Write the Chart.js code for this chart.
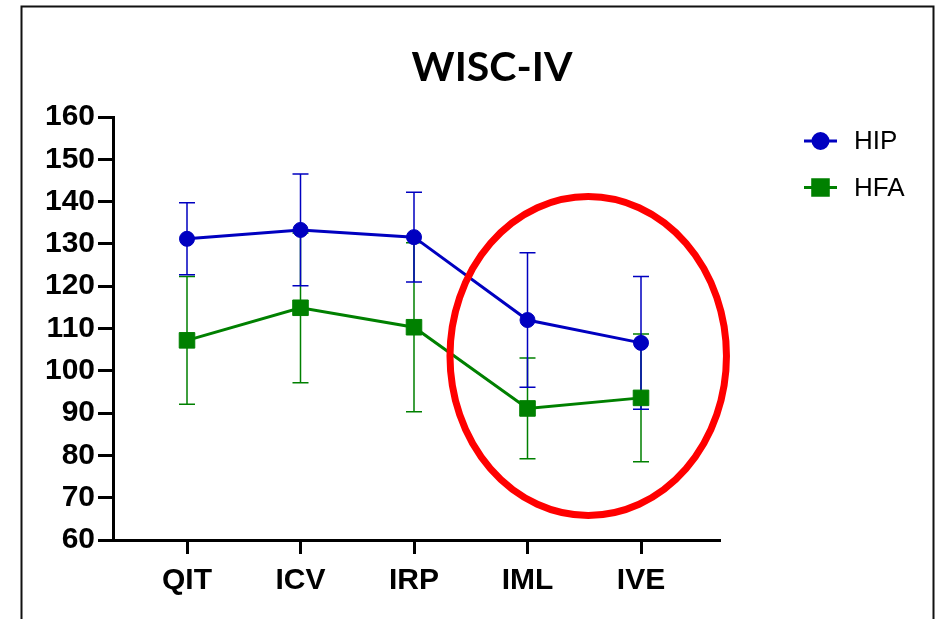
<!DOCTYPE html>
<html>
<head>
<meta charset="utf-8">
<script src="https://cdn.jsdelivr.net/npm/chart.js@4.4.1/dist/chart.umd.min.js"></script>
<style>
  html, body { margin: 0; padding: 0; background: #fff; }
  canvas { display: block; }
</style>
</head>
<body>
<canvas id="myChart" width="942" height="619"></canvas>
<script>
// WISC-IV scores, mean and error (+/-) per index
const categories = ['QIT', 'ICV', 'IRP', 'IML', 'IVE'];
const hipMean = [131.2, 133.3, 131.6, 112.0, 106.6];
const hipErr = [8.5, 13.2, 10.6, 15.9, 15.7];
const hfaMean = [107.2, 114.9, 110.3, 91.1, 93.6];
const hfaErr = [15.1, 17.7, 20.0, 11.9, 15.1];
const yTicks = [60, 70, 80, 90, 100, 110, 120, 130, 140, 150, 160];

const blue = '#0000c0';
const green = '#008000';

// red circle drawn around IML / IVE (in axis units)
const highlight = { x: 3.535, y: 103.5, rx: 1.218, ry: 37.7 };

function toPoints(values) {
    return values.map((v, i) => ({ x: i, y: v }));
}

const errorBars = {
    id: 'errorBars',
    beforeDatasetsDraw(chart) {
        const ctx = chart.ctx;
        const xs = chart.scales.x;
        const ys = chart.scales.y;
        const sets = [[hfaMean, hfaErr, green], [hipMean, hipErr, blue]];
        ctx.save();
        ctx.lineWidth = 1.5;
        sets.forEach(([mean, err, color]) => {
            ctx.strokeStyle = color;
            for (let i = 0; i < mean.length; i++) {
                let x = xs.getPixelForValue(i);
                let top = ys.getPixelForValue(mean[i] + err[i]);
                let bot = ys.getPixelForValue(mean[i] - err[i]);
                ctx.beginPath();
                ctx.moveTo(x, top);
                ctx.lineTo(x, bot);
                ctx.moveTo(x - 8, top);
                ctx.lineTo(x + 8, top);
                ctx.moveTo(x - 8, bot);
                ctx.lineTo(x + 8, bot);
                ctx.stroke();
            }
        });
        ctx.restore();
    },
    afterDatasetsDraw(chart) {
        const ctx = chart.ctx;
        const xs = chart.scales.x;
        const ys = chart.scales.y;
        let cx = xs.getPixelForValue(highlight.x);
        let cy = ys.getPixelForValue(highlight.y);
        let rx = xs.getPixelForValue(highlight.x + highlight.rx) - cx;
        let ry = cy - ys.getPixelForValue(highlight.y + highlight.ry);
        ctx.save();
        ctx.strokeStyle = '#ff0000';
        ctx.lineWidth = 7;
        ctx.beginPath();
        ctx.ellipse(cx, cy, rx, ry, 0, 0, Math.PI * 2);
        ctx.stroke();
        ctx.restore();
    }
};

const decorations = {
    id: 'decorations',
    beforeDraw(chart) {
        const ctx = chart.ctx;
        ctx.save();
        ctx.fillStyle = '#fff';
        ctx.fillRect(0, 0, chart.width, chart.height);
        // frame
        ctx.strokeStyle = '#111';
        ctx.lineWidth = 2;
        ctx.beginPath();
        ctx.moveTo(21.5, chart.height + 5);
        ctx.lineTo(21.5, 6.5);
        ctx.lineTo(933.5, 6.5);
        ctx.lineTo(933.5, chart.height + 5);
        ctx.stroke();
        // title
        ctx.fillStyle = '#000';
        ctx.font = 'bold 41px Lato, "Open Sans", sans-serif';
        ctx.textAlign = 'center';
        ctx.textBaseline = 'alphabetic';
        ctx.fillText('WISC-IV', 492, 81);
        ctx.restore();
    },
    afterDraw(chart) {
        const ctx = chart.ctx;
        const items = [
            { label: 'HIP', color: blue, style: 'circle', radius: 7.5, y: 141 },
            { label: 'HFA', color: green, style: 'rect', radius: 11, y: 187.5 }
        ];
        ctx.save();
        items.forEach(it => {
            ctx.strokeStyle = it.color;
            ctx.lineWidth = 3;
            ctx.beginPath();
            ctx.moveTo(804, it.y);
            ctx.lineTo(837, it.y);
            ctx.stroke();
            ctx.fillStyle = it.color;
            Chart.helpers.drawPoint(ctx, { pointStyle: it.style, radius: it.radius, borderWidth: 1, rotation: 0 }, 820.5, it.y);
            ctx.fillStyle = '#000';
            ctx.font = '26px "Liberation Sans", Arial, sans-serif';
            ctx.textAlign = 'left';
            ctx.textBaseline = 'middle';
            ctx.fillText(it.label, 854, it.y + 1);
        });
        ctx.restore();
    }
};

const ctx = document.getElementById('myChart').getContext('2d');
const myChart = new Chart(ctx, {
    type: 'line',
    data: {
        datasets: [{
            label: 'HIP',
            data: toPoints(hipMean),
            borderColor: blue,
            backgroundColor: blue,
            borderWidth: 3,
            pointStyle: 'circle',
            pointRadius: 7.5,
            pointBorderWidth: 1
        }, {
            label: 'HFA',
            data: toPoints(hfaMean),
            borderColor: green,
            backgroundColor: green,
            borderWidth: 3,
            pointStyle: 'rect',
            pointRadius: 11,
            pointBorderWidth: 1
        }]
    },
    options: {
        responsive: false,
        animation: false,
        events: [],
        layout: { padding: { top: 117, right: 222, bottom: 0, left: 0 } },
        plugins: {
            legend: { display: false },
            title: { display: false },
            tooltip: { enabled: false }
        },
        scales: {
            x: {
                type: 'linear',
                min: -0.652,
                max: 4.696,
                afterBuildTicks(scale) {
                    scale.ticks = categories.map((c, i) => ({ value: i }));
                },
                afterFit(scale) {
                    scale.height = 79;
                },
                grid: { drawOnChartArea: false, drawTicks: true, tickLength: 14, tickWidth: 3, tickColor: '#000' },
                border: { display: true, color: '#000', width: 3 },
                ticks: {
                    autoSkip: false,
                    maxRotation: 0,
                    padding: 9,
                    color: '#000',
                    font: { family: '"Liberation Sans", Arial, sans-serif', size: 30, weight: 'bold' },
                    callback: (v) => categories[v]
                }
            },
            y: {
                min: 60,
                max: 160,
                afterBuildTicks(scale) {
                    scale.ticks = yTicks.map(v => ({ value: v }));
                },
                afterFit(scale) {
                    scale.width = 113;
                },
                grid: { drawOnChartArea: false, drawTicks: true, tickLength: 15, tickWidth: 3, tickColor: '#000' },
                border: { display: true, color: '#000', width: 3 },
                ticks: {
                    padding: 3,
                    color: '#000',
                    font: { family: '"Liberation Sans", Arial, sans-serif', size: 30, weight: 'bold' }
                }
            }
        }
    },
    plugins: [decorations, errorBars]
});
</script>
</body>
</html>
